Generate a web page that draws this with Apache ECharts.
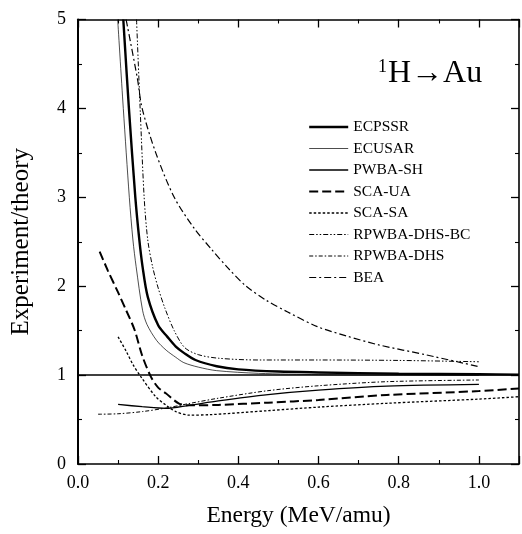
<!DOCTYPE html>
<html>
<head>
<meta charset="utf-8">
<script src="https://cdn.jsdelivr.net/npm/echarts@6/dist/echarts.min.js"></script>
<style>html,body{margin:0;padding:0;background:#fff;}#c{width:522px;height:534px;}</style>
</head>
<body>
<div id="c"></div>
<script>
// Data: [energy (MeV/amu), experiment/theory]
const seriesNames = ['ECPSSR','ECUSAR','PWBA-SH','SCA-UA','SCA-SA','RPWBA-DHS-BC','RPWBA-DHS','BEA'];
const ecpssr = [[0.113,5.0],[0.127,4.0],[0.143,3.0],[0.153,2.52],[0.161,2.22],[0.174,1.88],[0.2,1.56],[0.223,1.43],[0.244,1.32],[0.264,1.25],[0.293,1.17],[0.346,1.10],[0.4,1.065],[0.5,1.04],[0.6,1.03],[0.8,1.015],[1.0,1.01],[1.1,1.005]];
const ecusar = [[0.099,5.0],[0.113,4.0],[0.128,3.0],[0.137,2.52],[0.145,2.22],[0.161,1.73],[0.172,1.57],[0.196,1.39],[0.22,1.28],[0.244,1.2],[0.264,1.14],[0.3,1.09],[0.346,1.05],[0.45,1.02],[0.6,1.005],[0.8,1.0],[1.0,0.998]];
const pwbaSh = [[0.1,0.67],[0.16,0.645],[0.219,0.626],[0.277,0.66],[0.35,0.71],[0.474,0.78],[0.6,0.83],[0.77,0.875],[1.0,0.895]];
const scaUa = [[0.054,2.39],[0.075,2.17],[0.1,1.93],[0.12,1.73],[0.141,1.51],[0.16,1.22],[0.182,0.98],[0.2,0.86],[0.219,0.795],[0.252,0.68],[0.277,0.66],[0.35,0.665],[0.474,0.69],[0.6,0.72],[0.77,0.776],[1.0,0.82],[1.1,0.85]];
const scaSa = [[0.1,1.43],[0.12,1.27],[0.137,1.12],[0.157,0.98],[0.194,0.757],[0.22,0.66],[0.244,0.59],[0.277,0.55],[0.33,0.555],[0.474,0.60],[0.6,0.64],[0.77,0.683],[1.0,0.73],[1.1,0.757]];
const rpwbaDhsBc = [[0.146,5.0],[0.155,4.0],[0.165,3.0],[0.174,2.52],[0.186,2.22],[0.2,1.98],[0.217,1.75],[0.24,1.5],[0.266,1.31],[0.3,1.23],[0.35,1.19],[0.45,1.17],[0.6,1.17],[0.8,1.165],[1.0,1.15]];
const rpwbaDhs = [[0.05,0.56],[0.1,0.565],[0.161,0.59],[0.22,0.63],[0.277,0.68],[0.35,0.74],[0.474,0.825],[0.6,0.88],[0.77,0.926],[1.0,0.945]];
const bea = [[0.12,5.0],[0.148,4.34],[0.16,4.0],[0.194,3.5],[0.24,3.0],[0.29,2.65],[0.334,2.41],[0.375,2.2],[0.417,2.01],[0.47,1.84],[0.523,1.71],[0.597,1.545],[0.67,1.44],[0.75,1.34],[0.87,1.226],[1.0,1.095]];
const xTicks = [0, 0.2, 0.4, 0.6, 0.8, 1.0];
const yTicks = [0, 1, 2, 3, 4, 5];
const refValue = 1;

const serif = '"Liberation Serif","DejaVu Serif",serif';
const styles = [
  {width: 2.4, type: 'solid'},
  {width: 0.7, type: 'solid'},
  {width: 1.3, type: 'solid'},
  {width: 2.0, type: [9, 4]},
  {width: 1.3, type: [2.5, 2]},
  {width: 1.0, type: [5, 2, 1.5, 2, 1.5, 2]},
  {width: 1.0, type: [4, 2, 1.5, 2]},
  {width: 1.2, type: [7, 3, 2, 3]}
];
const datasets = [ecpssr, ecusar, pwbaSh, scaUa, scaSa, rpwbaDhsBc, rpwbaDhs, bea];

const chart = echarts.init(document.getElementById('c'), null, {renderer: 'canvas'});
const axisCommon = {
  type: 'value',
  axisLine: {show: true, onZero: false, lineStyle: {color: '#000', width: 1.6}},
  axisTick: {show: true, inside: true, length: 8, lineStyle: {color: '#000', width: 1.3}},
  minorTick: {show: true, splitNumber: 2, length: 4, lineStyle: {color: '#000', width: 1.1}},
  splitLine: {show: false},
  minorSplitLine: {show: false}
};
const series = seriesNames.map((name, i) => ({
  name: name,
  type: 'line',
  data: datasets[i],
  smooth: 0.3,
  showSymbol: false,
  symbol: 'none',
  clip: true,
  lineStyle: {color: '#000', width: styles[i].width, type: styles[i].type},
  itemStyle: {color: '#000'},
  z: 3
}));
series[0].markLine = {
  silent: true,
  symbol: 'none',
  label: {show: false},
  lineStyle: {color: '#000', width: 1.6, type: 'solid'},
  data: [{yAxis: refValue}]
};

chart.setOption({
  animation: false,
  backgroundColor: '#fff',
  title: {
    left: 373, top: 53,
    text: '{s|1}{m|H→Au}',
    textStyle: {
      fontWeight: 'normal',
      rich: {
        s: {fontFamily: serif, fontSize: 18, fontWeight: 'normal', color: '#000', verticalAlign: 'top', padding: [0, 1, 13, 0]},
        m: {fontFamily: serif, fontSize: 32, fontWeight: 'normal', color: '#000'}
      }
    }
  },
  legend: {
    orient: 'vertical',
    left: 303, top: 114,
    itemWidth: 39, itemHeight: 10, itemGap: 5.5,
    itemStyle: {opacity: 0},
    data: seriesNames.map((n, i) => ({name: n, lineStyle: {color: '#000', width: styles[i].width, type: styles[i].type}})),
    textStyle: {fontFamily: serif, fontSize: 15.5, color: '#000', lineHeight: 16},
    selectedMode: false
  },
  grid: {left: 78, width: 445.5, top: 19.5, bottom: 70, containLabel: false},
  xAxis: [
    Object.assign({}, axisCommon, {
      position: 'bottom', min: 0, max: 1.1, interval: 0.2,
      name: 'Energy (MeV/amu)', nameLocation: 'middle', nameGap: 40,
      nameTextStyle: {fontFamily: serif, fontSize: 23.5, color: '#000'},
      axisLabel: {show: true, margin: 10, fontFamily: serif, fontSize: 18, color: '#000',
        formatter: v => (xTicks.some(t => Math.abs(t - v) < 1e-6) ? v.toFixed(1) : '')}
    }),
    Object.assign({}, axisCommon, {
      position: 'top', min: 0, max: 1.1, interval: 0.2, axisLabel: {show: false}
    })
  ],
  yAxis: [
    Object.assign({}, axisCommon, {
      position: 'left', min: 0, max: 5, interval: 1,
      name: 'Experiment/theory', nameLocation: 'middle', nameGap: 44, nameRotate: 90,
      nameTextStyle: {fontFamily: serif, fontSize: 25, color: '#000'},
      axisLine: {show: true, onZero: false, lineStyle: {color: '#000', width: 2}},
      axisLabel: {show: true, margin: 12, fontFamily: serif, fontSize: 18, color: '#000',
        formatter: v => (yTicks.indexOf(v) >= 0 ? String(v) : '')}
    }),
    Object.assign({}, axisCommon, {
      position: 'right', min: 0, max: 5, interval: 1, axisLabel: {show: false}
    })
  ],
  series: series
});
</script>
</body>
</html>
